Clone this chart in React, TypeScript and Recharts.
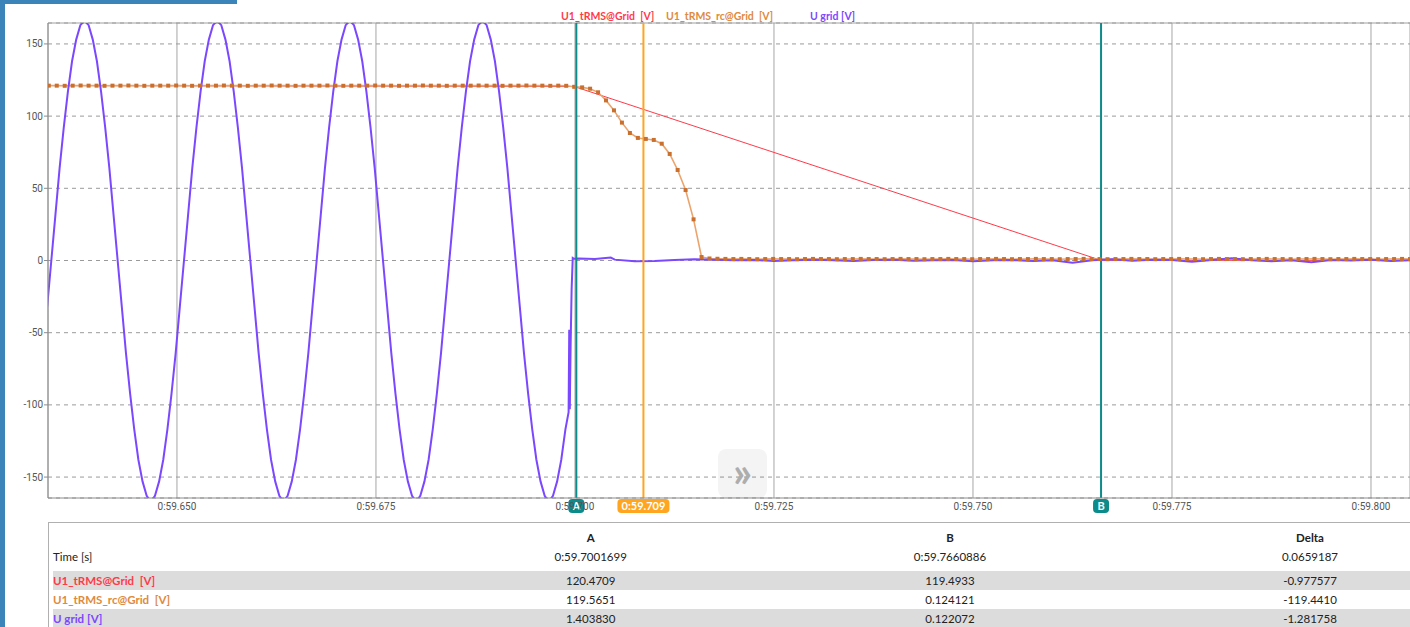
import React from "react";
import { CartesianGrid, Line, LineChart, ReferenceLine, XAxis, YAxis } from "recharts";

const X_DOMAIN: [number, number] = [59.6338, 59.8049];
const Y_DOMAIN: [number, number] = [-164.5, 164.5];
const X_TICKS = [59.65, 59.675, 59.7, 59.725, 59.75, 59.775, 59.8];
const Y_TICKS = [-150, -100, -50, 0, 50, 100, 150];

const CURSOR_A = 59.7001699;
const CURSOR_B = 59.7660886;
const CURSOR_T = 59.7086;
const CURSOR_T_LABEL = "0:59.709";

// U grid, one sample every 1/32 period up to the cut
const UGRID_T0 = 59.633696;
const UGRID_DT = 0.00052083;
const UGRID_SINE = [
  -32,
  0, 32, 64, 92, 117, 138, 153, 163, 166, 163, 153, 138, 117, 92, 64, 32,
  0, -32, -64, -92, -117, -138, -153, -163, -167, -163, -153, -138, -117, -92, -64, -32,
  0, 32, 64, 92, 117, 138, 153, 163, 166, 163, 153, 138, 117, 92, 64, 32,
  0, -32, -64, -92, -117, -138, -153, -163, -167, -163, -153, -138, -117, -92, -64, -32,
  0, 32, 64, 92, 117, 138, 153, 163, 166, 163, 153, 138, 117, 92, 64, 32,
  0, -32, -64, -92, -117, -138, -153, -163, -167, -163, -153, -138, -117, -92, -64, -32,
  0, 32, 64, 92, 117, 138, 153, 163, 166, 163, 153, 138, 117, 92, 64, 32,
  0, -32, -64, -92, -117, -138, -153, -163, -167, -163, -153, -138, -117,
];
const UGRID_TAIL: [number, number][] = [
  [59.6992, -105], [59.69928, -48], [59.69935, -103], [59.69945, -60], [59.69958, -20],
  [59.69972, 1.8], [59.6999, 1.2], [59.7005, 1.4], [59.7025, 1.1], [59.7045, 2.0],
  [59.705, 0.6], [59.7075, -0.6], [59.71, -0.4], [59.7125, 0.3], [59.715, 0.8],
  [59.7175, 0.5], [59.72, 0.2], [59.7225, 0.4], [59.725, -0.3], [59.7275, 0.1],
  [59.73, 0.6], [59.7325, 0.2], [59.735, -0.4], [59.7375, 0.3], [59.74, 0.5],
  [59.7425, -0.2], [59.745, 0.1], [59.7475, 0.4], [59.75, -0.5], [59.7525, 0.2],
  [59.755, 0.3], [59.7575, -0.3], [59.76, 0.1], [59.7625, -1.5], [59.765, 0.2],
  [59.7675, 0.9], [59.77, -0.2], [59.7725, 0.5], [59.775, 0.3], [59.7775, -0.8],
  [59.78, 0.4], [59.7825, 1.6], [59.785, 0.2], [59.7875, -0.6], [59.79, 0.1],
  [59.7925, -1.2], [59.795, 0.3], [59.7975, 0.0], [59.8, 0.5], [59.8025, -0.4], [59.805, 0.2],
];

// U1_tRMS_rc, 1 ms samples
const RC_T0 = 59.6339;
const RC_DT = 0.001;
const RC_VALUES = [
  121.1, 121.1, 121.0, 121.1, 121.2, 121.1, 121.1, 121.0, 121.1, 121.1, 121.2,
  121.1, 121.0, 121.1, 121.1, 121.1, 121.2, 121.1, 121.0, 121.1, 121.1, 121.1,
  121.2, 121.1, 121.1, 121.0, 121.1, 121.1, 121.2, 121.1, 121.1, 121.0, 121.1,
  121.1, 121.1, 121.2, 121.1, 121.0, 121.1, 121.1, 121.1, 121.2, 121.1, 121.1,
  121.0, 121.1, 121.1, 121.2, 121.1, 121.1, 121.0, 121.1, 121.1, 121.1, 121.2,
  121.1, 121.1, 121.0, 121.1, 121.1, 121.2, 121.1, 121.1, 121.0, 121.1, 121.0,
  120.3, 119.9, 119.0, 116.5, 110.9, 104.0, 95.5, 88.3, 84.9, 84.2, 83.5, 80.9,
  73.8, 62.7, 48.8, 28.5, 2.4,
  1.4, 1.2, 1.1, 1.0, 1.1, 1.0, 0.9, 1.0, 1.1, 1.0,
  1.0, 0.9, 1.0, 1.1, 1.0, 1.0, 0.9, 1.0, 1.0, 1.1,
  1.0, 1.0, 0.9, 1.0, 1.1, 1.0, 1.0, 0.9, 1.0, 1.0,
  1.1, 1.0, 1.0, 0.9, 1.0, 1.0, 1.1, 1.0, 0.9, 1.0,
  1.0, 1.1, 1.0, 1.0, 0.9, 1.0, 1.0, 1.1, 1.0, 1.0,
  0.9, 1.0, 1.0, 1.1, 1.0, 1.0, 0.9, 1.0, 1.0, 1.1,
  1.0, 1.0, 0.9, 1.0, 1.1, 1.0, 1.0, 0.9, 1.0, 1.0,
  1.1, 1.0, 1.0, 0.9, 1.0, 1.0, 1.1, 1.0, 0.9, 1.0,
  1.0, 1.1, 1.0, 1.0, 0.9, 1.0, 1.0, 1.1, 1.0,
];

// U1_tRMS
const TRMS_POINTS: [number, number][] = [
  [59.6339, 121.2], [59.6999, 120.5], [59.7661, 0.1], [59.8049, 0.1],
];

const SERIES_NAMES = ["U1_tRMS@Grid  [V]", "U1_tRMS_rc@Grid  [V]", "U grid [V]"];
const TABLE_COLS = ["A", "B", "Delta"];
const TIME_ROW = ["0:59.7001699", "0:59.7660886", "0.0659187"];
const TRMS_ROW = ["120.4709", "119.4933", "-0.977577"];
const RC_ROW = ["119.5651", "0.124121", "-119.4410"];
const UGRID_ROW = ["1.403830", "0.122072", "-1.281758"];

const C_TRMS = "#ff3b4a";
const C_RC_LINE = "#eba46c";
const C_RC_DOT = "#c9702f";
const C_RC_TEXT = "#e08a3e";
const C_UGRID = "#7b48ff";
const C_TEAL = "#0c8b8b";
const C_CURSOR = "#ffa51f";
const C_FRAME = "#3b84b9";

const uGridData = [
  ...UGRID_SINE.map((v, i) => ({ t: UGRID_T0 + i * UGRID_DT, v })),
  ...UGRID_TAIL.map(([t, v]) => ({ t, v })),
];
const rcData = RC_VALUES.map((v, i) => ({ t: RC_T0 + i * RC_DT, v }));
const trmsData = TRMS_POINTS.map(([t, v]) => ({ t, v }));

const fmtTime = (v: number) => `0:${v.toFixed(3)}`;

function Badge(props: any) {
  const { viewBox, text, fill, w } = props;
  if (!viewBox) return null;
  const cy = viewBox.y + viewBox.height + 8;
  return (
    <g>
      <rect x={viewBox.x - w / 2} y={cy - 7} width={w} height={14} rx={4} fill={fill} />
      <text x={viewBox.x} y={cy} dy="0.36em" textAnchor="middle" fill="#fff" fontSize={11}
        fontWeight={700} fontFamily="Lato, sans-serif">
        {text}
      </text>
    </g>
  );
}

const rcDot = (p: any) => (
  <rect key={`rc-${p.index}`} x={p.cx - 2} y={p.cy - 2} width={4} height={4} fill={C_RC_DOT} />
);

function Row({ top, bg, label, color, bold, values }: any) {
  const centers = [590.7, 950, 1310];
  return (
    <div style={{ position: "absolute", left: 53, top, width: 1357, height: 19, background: bg }}>
      <span style={{ position: "absolute", left: 0, top: 0, lineHeight: "19px", color, fontWeight: bold ? 700 : 400, whiteSpace: "pre" }}>
        {label}
      </span>
      {values.map((v: string, i: number) => (
        <span key={i} style={{ position: "absolute", left: centers[i] - 53 - 60, width: 120, textAlign: "center", lineHeight: "19px", color: "#222" }}>
          {v}
        </span>
      ))}
    </div>
  );
}

export default function App() {
  const legendColors = [C_TRMS, C_RC_TEXT, C_UGRID];
  const legendLeft = [561, 666, 810];
  return (
    <div style={{ position: "absolute", left: 0, top: 0, width: 1410, height: 627, overflow: "hidden", background: "#fff", fontFamily: "Lato, sans-serif", fontSize: 11.5 }}>
      <div style={{ position: "absolute", left: 0, top: 0, width: 5, height: 627, background: C_FRAME }} />
      <div style={{ position: "absolute", left: 0, top: 0, width: 237, height: 4, background: C_FRAME }} />

      {SERIES_NAMES.map((n, i) => (
        <span key={n} style={{ position: "absolute", left: legendLeft[i], top: 9, lineHeight: "14px", fontSize: 10.5, fontWeight: 700, color: legendColors[i], whiteSpace: "pre" }}>
          {n}
        </span>
      ))}

      <div style={{ position: "absolute", left: 0, top: 0 }}>
        <LineChart width={1410} height={522} margin={{ top: 23, right: 0, bottom: 0, left: 0 }}>
          <CartesianGrid horizontal={false} stroke="#a6a6a6" />
          <CartesianGrid vertical={false} stroke="#9a9a9a" strokeDasharray="4 4" />
          <XAxis dataKey="t" type="number" domain={X_DOMAIN} ticks={X_TICKS} allowDataOverflow
            tickFormatter={fmtTime} height={24} tickLine={false} tickSize={3} tickMargin={2}
            axisLine={{ stroke: "#8c8c8c" }} tick={{ fontSize: 10, fill: "#555", fontFamily: "Roboto" }} />
          <YAxis type="number" domain={Y_DOMAIN} ticks={Y_TICKS} allowDataOverflow width={48}
            tickSize={4} tickMargin={1} axisLine={{ stroke: "#8c8c8c" }} tickLine={{ stroke: "#8c8c8c" }}
            tick={{ fontSize: 10, fill: "#555", fontFamily: "Roboto" }} />
          <ReferenceLine y={Y_DOMAIN[1]} stroke="#a0a0a0" />
          <Line data={trmsData} dataKey="v" stroke={C_TRMS} strokeWidth={1} dot={false} isAnimationActive={false} />
          <Line data={rcData} dataKey="v" stroke={C_RC_LINE} strokeWidth={1.6} dot={rcDot} isAnimationActive={false} />
          <Line data={uGridData} dataKey="v" stroke={C_UGRID} strokeWidth={2} dot={false} isAnimationActive={false} />
          <ReferenceLine x={CURSOR_A} stroke={C_TEAL} strokeWidth={2}
            label={<Badge text="A" fill={C_TEAL} w={16} />} />
          <ReferenceLine x={CURSOR_T} stroke={C_CURSOR} strokeWidth={2}
            label={<Badge text={CURSOR_T_LABEL} fill={C_CURSOR} w={52} />} />
          <ReferenceLine x={CURSOR_B} stroke={C_TEAL} strokeWidth={2}
            label={<Badge text="B" fill={C_TEAL} w={16} />} />
        </LineChart>
      </div>

      <div style={{ position: "absolute", left: 718, top: 449, width: 49, height: 49, borderRadius: 8, background: "rgba(0,0,0,0.045)", color: "#adadad", fontSize: 42, fontWeight: 700, textAlign: "center", lineHeight: "44px" }}>
        »
      </div>

      <div style={{ position: "absolute", left: 48, top: 522, width: 1362, height: 105, borderTop: "1px solid #b0b0b0", borderLeft: "1px solid #b0b0b0" }} />
      {TABLE_COLS.map((c, i) => (
        <span key={c} style={{ position: "absolute", left: [590.7, 950, 1310][i] - 60, width: 120, top: 529, lineHeight: "17px", textAlign: "center", fontWeight: 700, color: "#222" }}>
          {c}
        </span>
      ))}
      <Row top={547} bg="transparent" label="Time [s]" color="#222" values={TIME_ROW} />
      <Row top={571} bg="#dcdcdc" label={SERIES_NAMES[0]} color={C_TRMS} bold values={TRMS_ROW} />
      <Row top={590} bg="transparent" label={SERIES_NAMES[1]} color={C_RC_TEXT} bold values={RC_ROW} />
      <Row top={609} bg="#dcdcdc" label={SERIES_NAMES[2]} color={C_UGRID} bold values={UGRID_ROW} />
    </div>
  );
}
